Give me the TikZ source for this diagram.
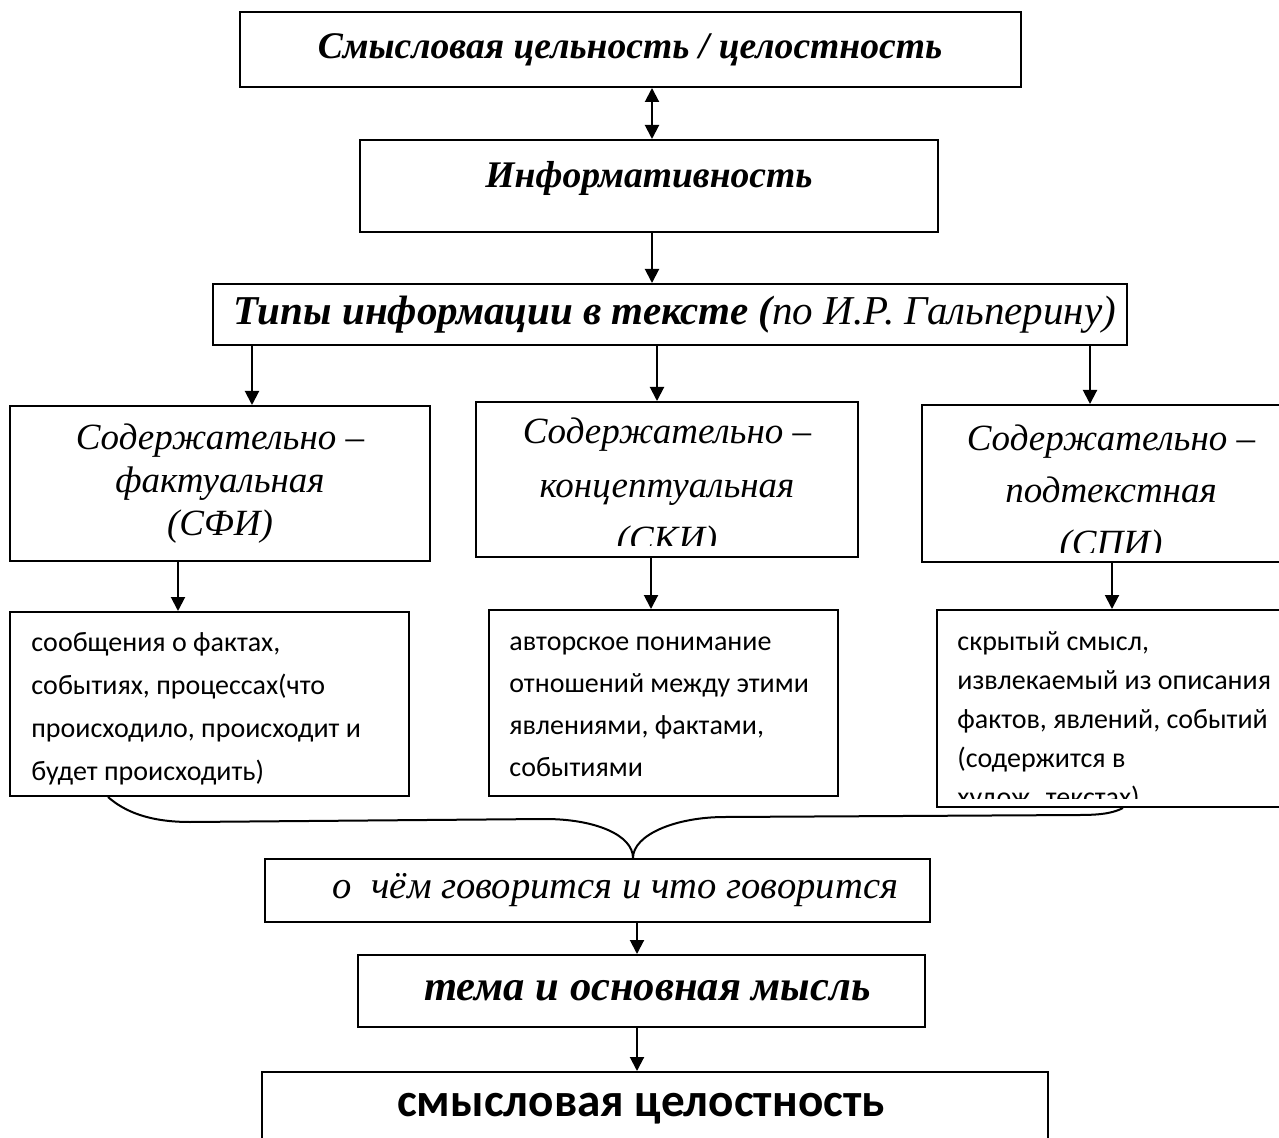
\documentclass[tikz,border=0pt]{standalone}
\usepackage{fontspec}
\setmainfont{Liberation Serif}
\newfontfamily\calibri{Carlito}
\usetikzlibrary{arrows.meta}

\begin{document}
\begin{tikzpicture}[x=0.5pt,y=-0.5pt,
	box/.style={draw, line width=1pt, inner sep=0pt},
	arr/.style={line width=1pt, -{Triangle[length=7pt,width=7pt]}},
	dbl/.style={line width=1pt, {Triangle[length=7pt,width=7pt]}-{Triangle[length=7pt,width=7pt]}},
	head/.style={font=\fontsize{18.8}{23}\selectfont\bfseries\itshape},
	kind/.style={align=center, inner sep=0pt},
	note/.style={align=left, inner sep=0pt}]

\clip (0,0) rectangle (1279,1138);

% top of the scheme
\node[box, head, minimum width=390.5pt, minimum height=37.5pt] (top) at (630,49.5) {Смысловая цельность / целостность};
\node[box, head, minimum width=289pt, minimum height=46pt, text depth=12pt] (inform) at (649,186) {Информативность};
\node[box, minimum width=457pt, minimum height=30.5pt, font=\fontsize{20.5}{24}\selectfont\itshape] (types) at (670,314.5) {\hspace*{5pt}\textbf{Типы информации в тексте (}по И.Р. Гальперину)};

\draw[dbl] (top.south -| 652,0) -- (inform.north -| 652,0);
\draw[arr] (inform.south -| 652,0) -- (types.north -| 652,0);

% three kinds
\node[box, minimum width=210pt, minimum height=77.5pt] (sfi) at (220,483.5) {};
\node[box, minimum width=191pt, minimum height=77.5pt] (ski) at (667,479.5) {};
\node[box, minimum width=189pt, minimum height=78.5pt] (spi) at (1111,483.5) {};

\begin{scope}
\clip (sfi.north west) rectangle ([yshift=6pt]sfi.south east);
\node[kind, anchor=base, font=\fontsize{18.5}{21.5}\selectfont\itshape] (sfitxt) at ([yshift=-65.5pt]sfi.north) {Содержательно –\\фактуальная\\(СФИ)};
\end{scope}
\begin{scope}
\clip (ski.north west) rectangle ([yshift=6pt]ski.south east);
\node[kind, anchor=base, font=\fontsize{18.5}{27}\selectfont\itshape] (skitxt) at ([yshift=-75.5pt]ski.north) {Содержательно –\\концептуальная\\(СКИ)};
\end{scope}
\begin{scope}
\clip (spi.north west) rectangle ([yshift=5pt]spi.south east);
\node[kind, anchor=base, font=\fontsize{18.5}{26}\selectfont\itshape] (spitxt) at ([yshift=-75.5pt]spi.north) {Содержательно –\\подтекстная\\(СПИ)};
\end{scope}

\draw[arr] (types.south -| 252,0) -- (sfi.north -| 252,0);
\draw[arr] (types.south -| 657,0) -- (ski.north -| 657,0);
\draw[arr] (types.south -| 1090,0) -- (spi.north -| 1090,0);

% notes
\node[box, minimum width=199.5pt, minimum height=92pt] (sfinote) at (209.5,704) {};
\node[box, minimum width=174.5pt, minimum height=93pt] (skinote) at (663.5,703) {};
\node[box, minimum width=181.5pt, minimum height=98.5pt] (spinote) at (1118.5,708.5) {};

\node[note, anchor=base west, font=\calibri\fontsize{14}{21.5}\selectfont] (sfinotetxt) at ([xshift=11pt,yshift=-84.5pt]sfinote.north west) {сообщения о фактах,\\событиях, процессах(что\\происходило, происходит и\\будет происходить)};
\node[note, anchor=base west, font=\calibri\fontsize{14}{21}\selectfont] (skinotetxt) at ([xshift=10.5pt,yshift=-83.5pt]skinote.north west) {авторское понимание\\отношений между этими\\явлениями, фактами,\\событиями};
\begin{scope}
\clip (spinote.north west) rectangle ([yshift=5pt]spinote.south east);
\node[note, anchor=base west, font=\calibri\fontsize{14}{19.5}\selectfont] (spinotetxt) at ([xshift=10.5pt,yshift=-98.5pt]spinote.north west) {скрытый смысл,\\извлекаемый из описания\\фактов, явлений, событий\\(содержится в\\худож. текстах)};
\end{scope}

\draw[arr] (sfi.south -| 178,0) -- (sfinote.north -| 178,0);
\draw[arr] (ski.south -| 651,0) -- (skinote.north -| 651,0);
\draw[arr] (spi.south -| 1112,0) -- (spinote.north -| 1112,0);

% bottom of the scheme
\node[box, minimum width=332.5pt, minimum height=31.5pt, font=\fontsize{19.3}{23}\selectfont\itshape] (about) at (597.5,890.5) {\hspace*{18pt}о~ чём говорится и что говорится};
\node[box, minimum width=283.5pt, minimum height=36pt, font=\fontsize{21.3}{25}\selectfont\bfseries\itshape] (theme) at (641.5,991) {\hspace*{6pt}тема и основная мысль};
\node[box, minimum width=393pt, minimum height=36.5pt, font=\calibri\fontsize{23.6}{28}\selectfont\bfseries] (result) at (655,1108.5) {смысловая целостность\hspace*{14pt}};

\draw[line width=1pt] (sfinote.south -| 108,0) .. controls (125,812) and (150,822) .. (190,822) -- (545,819) .. controls (595,819) and (633,835) .. (about.north -| 633,0);
\draw[line width=1pt] (about.north -| 633,0) .. controls (633,835) and (675,817) .. (725,817) -- (1080,815) .. controls (1105,815) and (1115,812) .. (spinote.south -| 1123,0);

\draw[arr] (about.south -| 637,0) -- (theme.north -| 637,0);
\draw[arr] (theme.south -| 637,0) -- (result.north -| 637,0);

\end{tikzpicture}
\end{document}
